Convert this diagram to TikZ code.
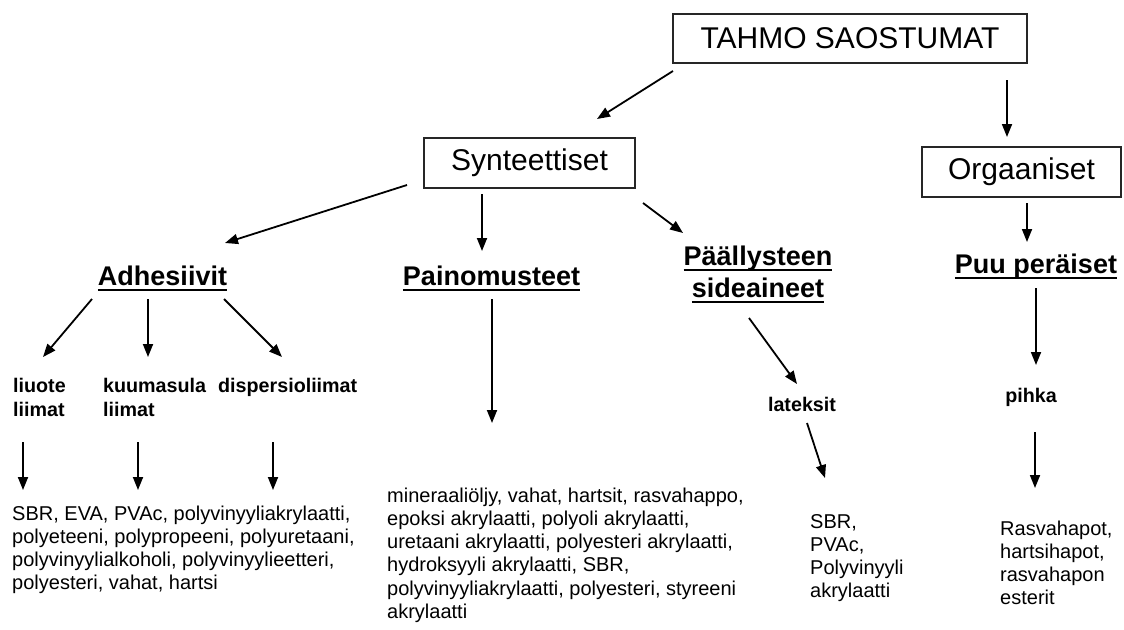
\documentclass[tikz,border=0pt]{standalone}
\usepackage{fontspec}
\setmainfont{Liberation Sans}
\usetikzlibrary{arrows.meta}

\newsavebox\hdbox
\newcommand\hdline[1]{\sbox\hdbox{#1}\rlap{\rule[-6pt]{\wd\hdbox}{2.2pt}}\usebox\hdbox}

\tikzset{
  box/.style={draw=black!85, line width=1.3pt, inner sep=0pt, font=\fontsize{30}{34}\selectfont},
  head/.style={inner sep=0pt, align=center, font=\bfseries\fontsize{27}{32}\selectfont},
  sub/.style={inner sep=0pt, align=left, font=\bfseries\fontsize{19.7}{24}\selectfont},
  body/.style={inner sep=0pt, align=left, font=\fontsize{20}{23.3}\selectfont},
  arr/.style={-{Triangle[length=13pt,width=10pt]}, line width=1.8pt},
}

\begin{document}
\begin{tikzpicture}[x=1pt, y=-1pt]
    \useasboundingbox (0,0) rectangle (1124,629);

    \node[box, minimum width=354, minimum height=49](tahmo) at (850,38.5){TAHMO SAOSTUMAT};
    \node[box, minimum width=211, minimum height=50](synt) at (529.5,163){Synteettiset};
    \node[box, minimum width=199, minimum height=50](org) at (1021.5,172){Orgaaniset};

    % base anchor = baseline of the last line
    \node[head, anchor=base](adh) at (162.5,285){\hdline{Adhesiivit}};
    \node[head, anchor=base](paino) at (491.5,285){\hdline{Painomusteet}};
    \node[head, anchor=base](paal) at (758,297){\hdline{Päällysteen}\\\hdline{sideaineet}};
    \node[head, anchor=base](puu) at (1036,273){\hdline{Puu peräiset}};

    \node[sub, anchor=base west](liuote) at (13,416){liuote\\liimat};
    \node[sub, anchor=base west](kuuma) at (103,416){kuumasula\\liimat};
    \node[sub, anchor=base west](disp) at (218,392){dispersioliimat};
    \node[sub, anchor=base](lateks) at (802,411){lateksit};
    \node[sub, anchor=base](pihka) at (1031,402){pihka};

    \node[body, anchor=base west](adhlist) at (12,589.9){SBR, EVA, PVAc, polyvinyyliakrylaatti,\\polyeteeni, polypropeeni, polyuretaani,\\polyvinyylialkoholi, polyvinyylieetteri,\\polyesteri, vahat, hartsi};
    \node[body, anchor=base west](painolist) at (387,618.5){mineraaliöljy, vahat, hartsit, rasvahappo,\\epoksi akrylaatti, polyoli akrylaatti,\\uretaani akrylaatti, polyesteri akrylaatti,\\hydroksyyli akrylaatti, SBR,\\polyvinyyliakrylaatti, polyesteri, styreeni\\akrylaatti};
    \node[body, anchor=base west](lateklist) at (810,597.9){SBR,\\PVAc,\\Polyvinyyli\\akrylaatti};
    \node[body, anchor=base west](puulist) at (1000,604.9){Rasvahapot,\\hartsihapot,\\rasvahapon\\esterit};

    % arrow ends
    \coordinate(tahmo_s) at (673,71);   \coordinate(synt_n) at (597,119);
    \coordinate(tahmo_o) at (1007,80);  \coordinate(org_n) at (1007,137);
    \coordinate(synt_a) at (407,185);   \coordinate(adh_n) at (225,243);
    \coordinate(synt_p) at (482,194);   \coordinate(paino_n) at (482,251);
    \coordinate(synt_l) at (643,203);   \coordinate(paal_n) at (683,233);
    \coordinate(org_s) at (1027,203);   \coordinate(puu_n) at (1027,242);
    \coordinate(adh_1) at (92,299);     \coordinate(liuote_n) at (43,357);
    \coordinate(adh_2) at (148,299);    \coordinate(kuuma_n) at (148,357);
    \coordinate(adh_3) at (224,299);    \coordinate(disp_n) at (282,357);
    \coordinate(liuote_s) at (23,442);  \coordinate(list_1) at (23,490);
    \coordinate(kuuma_s) at (138,442);  \coordinate(list_2) at (138,490);
    \coordinate(disp_s) at (273,442);   \coordinate(list_3) at (273,490);
    \coordinate(paino_s) at (492,299);  \coordinate(painolist_n) at (492,423);
    \coordinate(paal_s) at (749,318);   \coordinate(lateks_n) at (797,384);
    \coordinate(lateks_s) at (807,423); \coordinate(lateklist_n) at (825,478);
    \coordinate(puu_s) at (1036,288);   \coordinate(pihka_n) at (1036,365);
    \coordinate(pihka_s) at (1035,432); \coordinate(puulist_n) at (1035,488);

    \draw[arr](tahmo_s)--(synt_n);
    \draw[arr](tahmo_o)--(org_n);
    \draw[arr](synt_a)--(adh_n);
    \draw[arr](synt_p)--(paino_n);
    \draw[arr](synt_l)--(paal_n);
    \draw[arr](org_s)--(puu_n);
    \draw[arr](adh_1)--(liuote_n);
    \draw[arr](adh_2)--(kuuma_n);
    \draw[arr](adh_3)--(disp_n);
    \draw[arr](liuote_s)--(list_1);
    \draw[arr](kuuma_s)--(list_2);
    \draw[arr](disp_s)--(list_3);
    \draw[arr](paino_s)--(painolist_n);
    \draw[arr](paal_s)--(lateks_n);
    \draw[arr](lateks_s)--(lateklist_n);
    \draw[arr](puu_s)--(pihka_n);
    \draw[arr](pihka_s)--(puulist_n);
  \end{tikzpicture}
\end{document}
